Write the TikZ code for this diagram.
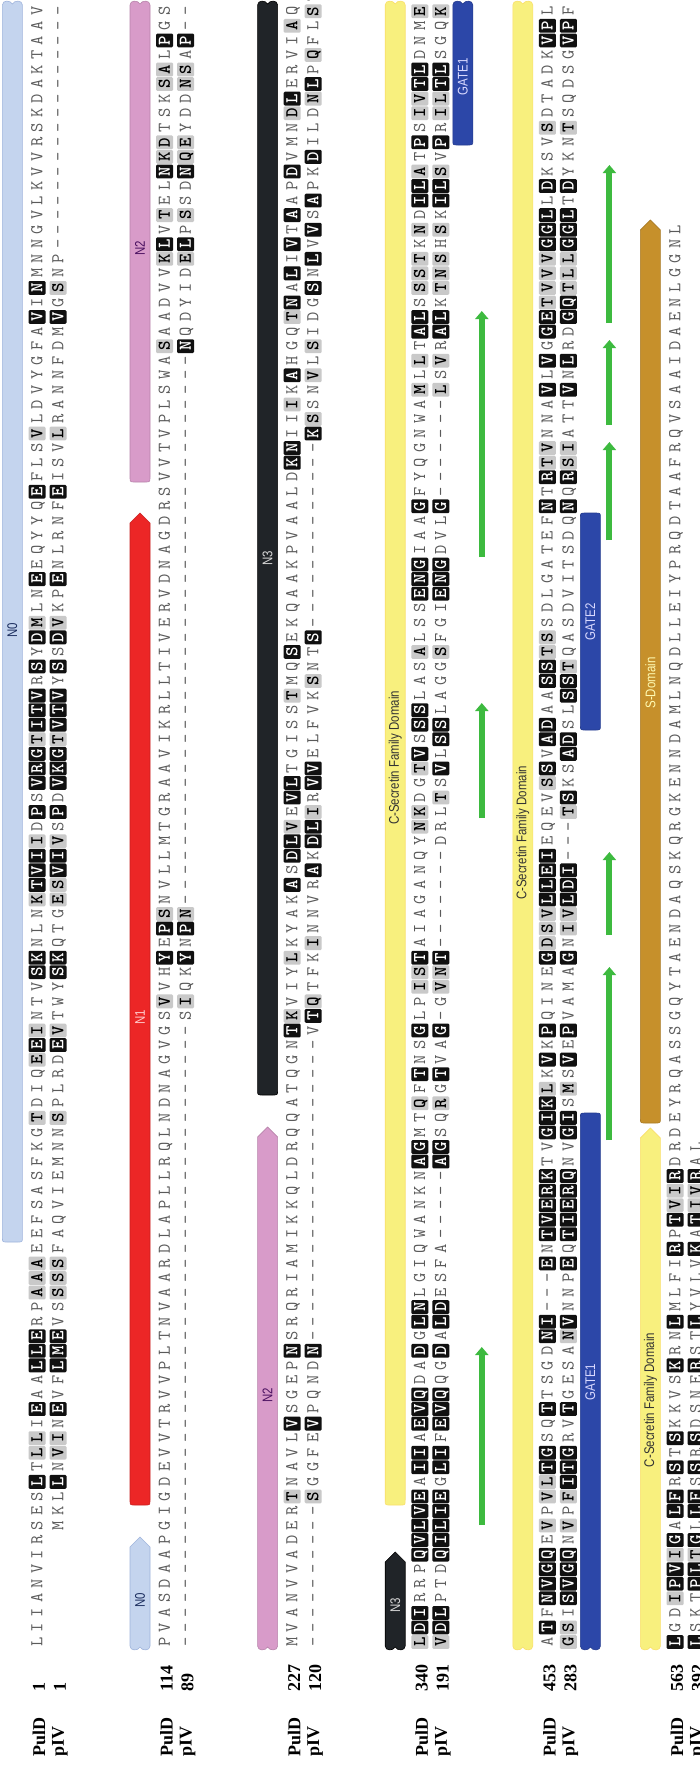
\documentclass[tikz,border=0pt]{standalone}
\usepackage{fontspec}
\setmainfont{Liberation Serif}
\newfontfamily\narrowsans[FakeStretch=0.82]{Liberation Sans}
\usetikzlibrary{arrows.meta}

\definecolor{plaingray}{HTML}{5A5A5A}
\definecolor{boxgray}{HTML}{C9C9C9}
\definecolor{boxblack}{HTML}{101010}
\definecolor{nzeroblue}{HTML}{C4D4EE}
\definecolor{nzeroline}{HTML}{9FB4DC}
\definecolor{nonered}{HTML}{EC2626}
\definecolor{ntwopink}{HTML}{D89BC9}
\definecolor{nthreeblack}{HTML}{202428}
\definecolor{secyellow}{HTML}{F8F07E}
\definecolor{gateblue}{HTML}{2C47A8}
\definecolor{sdombrown}{HTML}{C6902B}
\definecolor{strandgreen}{HTML}{3DBA3F}
\definecolor{navytext}{HTML}{1B2D5E}
\definecolor{purpletext}{HTML}{4A1060}

% ---------- sequence line machinery ----------
\newcount\sqc
\def\sqline#1#2#3{\def\sqid{#1}\def\sqx{#2}\sqc=0 \sqparse#3\relax}
\def\sqparse#1{%
 \ifx#1\relax\def\sqnext{}%
 \else\ifx#1*\def\sqnext{\sqblk}%
 \else\ifx#1+\def\sqnext{\sqgry}%
 \else\ifx#1.\def\sqnext{\advance\sqc by 1\relax\sqparse}%
 \else\def\sqnext{\sqput{seqplain}{#1}\sqparse}%
 \fi\fi\fi\fi\sqnext}
\def\sqblk#1{\sqput{seqblack}{#1}\sqparse}
\def\sqgry#1{\sqput{seqgray}{#1}\sqparse}
\def\sqput#1#2{\advance\sqc by 1\relax
 \pgfmathsetmacro\sqy{1656.56-14.56*\the\sqc}%
 \node[#1] (\sqid-\the\sqc) at (\sqx,\sqy) {#2};}

% ---------- bar end pieces ----------
\newcommand\topN[2]{(#1-10,#2+5) .. controls (#1-10,#2) and (#1-2,#2) .. (#1,#2+4) .. controls (#1+2,#2) and (#1+10,#2) .. (#1+10,#2+5)}
\newcommand\topR[2]{(#1-10,#2+5) .. controls (#1-10,#2) .. (#1-5,#2) -- (#1+5,#2) .. controls (#1+10,#2) .. (#1+10,#2+5)}
\newcommand\topA[2]{(#1-10,#2+10) -- (#1,#2) -- (#1+10,#2+10)}
\newcommand\botR[2]{-- (#1+10,#2-5) .. controls (#1+10,#2) .. (#1+5,#2) -- (#1-5,#2) .. controls (#1-10,#2) .. (#1-10,#2-5)}
\newcommand\botW[2]{-- (#1+10,#2-5) .. controls (#1+10,#2) and (#1+2,#2) .. (#1,#2-4) .. controls (#1-2,#2) and (#1-10,#2) .. (#1-10,#2-5)}

\tikzset{
 seqbase/.style={rotate=90, inner sep=0pt, minimum width=13.8pt, minimum height=17pt,
   text height=10.5pt, text depth=0pt, rounded corners=1.2pt,
   font=\fontsize{18}{18}\selectfont\ttfamily},
 seqplain/.style={seqbase, text=plaingray},
 seqblack/.style={seqbase, fill=boxblack, text=white, font=\fontsize{18}{18}\selectfont\ttfamily\bfseries},
 seqgray/.style={seqbase, fill=boxgray, text=black, font=\fontsize{18}{18}\selectfont\ttfamily\bfseries},
 lab/.style={rotate=90, anchor=west, inner sep=0pt, font=\fontsize{18}{18}\selectfont\bfseries},
 barlab/.style={rotate=90, inner sep=0pt, font=\fontsize{14}{14}\selectfont\narrowsans},
 nzerobar/.style={fill=nzeroblue, draw=nzeroline, line width=0.6pt},
 nonebar/.style={fill=nonered, draw=nonered!85!black, line width=0.6pt},
 ntwobar/.style={fill=ntwopink, draw=ntwopink!85!black, line width=0.6pt},
 nthreebar/.style={fill=nthreeblack, draw=black, line width=0.6pt},
 secbar/.style={fill=secyellow, draw=secyellow!85!orange, line width=0.6pt},
 gatebar/.style={fill=gateblue, draw=gateblue!85!black, line width=0.6pt},
 sdombar/.style={fill=sdombrown, draw=sdombrown!85!black, line width=0.6pt},
 strand/.style={draw=strandgreen, line width=6pt, -{Triangle[width=13pt,length=8pt]}},
}

\begin{document}
\begin{tikzpicture}[x=1pt,y=-1pt]
\useasboundingbox (0,0) rectangle (699,1775);
\fill[white] (0,0) rectangle (699,1775);

% ================= feature bars =================
% block 1
\path[nzerobar] \topN{12.4}{0} \botR{12.4}{1242} -- cycle;
\node[barlab,text=navytext] (fN0a) at (12.4,630) {N0};
% block 2
\path[ntwobar] \topN{140}{0} \botR{140}{482} -- cycle;
\node[barlab,text=purpletext] (fN2a) at (140,248) {N2};
\path[nonebar] \topA{140}{513} \botR{140}{1505} -- cycle;
\node[barlab,text=red!20!white] (fN1) at (140,1017) {N1};
\path[nzerobar] \topA{140}{1537} \botW{140}{1651} -- cycle;
\node[barlab,text=navytext] (fN0b) at (140,1600) {N0};
% block 3
\path[nthreebar] \topN{267.6}{0} \botR{267.6}{1095} -- cycle;
\node[barlab,text=black!15] (fN3a) at (267.6,558) {N3};
\path[ntwobar] \topA{267.6}{1127} \botW{267.6}{1651} -- cycle;
\node[barlab,text=purpletext] (fN2b) at (267.6,1395) {N2};
% block 4
\path[secbar] \topN{395.2}{0} \botR{395.2}{1505} -- cycle;
\node[barlab,text=black!80] (fCS1) at (395.2,758) {C-Secretin Family Domain};
\path[nthreebar] \topA{395.2}{1552} \botW{395.2}{1651} -- cycle;
\node[barlab,text=black!15] (fN3b) at (395.2,1605) {N3};
\path[gatebar] \topN{462.8}{0} \botR{462.8}{145} -- cycle;
\node[barlab,text=blue!15!white] (fG1a) at (462.8,77) {GATE1};
\draw[strand] (481.8,557) -- (481.8,311);
\draw[strand] (481.8,818) -- (481.8,703);
\draw[strand] (481.8,1525) -- (481.8,1347);
% block 5
\path[secbar] \topN{522.8}{0} \botW{522.8}{1651} -- cycle;
\node[barlab,text=black!80] (fCS2) at (522.8,833) {C-Secretin Family Domain};
\path[gatebar] \topR{590.4}{513} \botR{590.4}{730} -- cycle;
\node[barlab,text=blue!15!white] (fG2) at (590.4,622) {GATE2};
\path[gatebar] \topR{590.4}{1113} \botW{590.4}{1651} -- cycle;
\node[barlab,text=blue!15!white] (fG1b) at (590.4,1382) {GATE1};
\draw[strand] (609.4,323) -- (609.4,165);
\draw[strand] (609.4,425) -- (609.4,340);
\draw[strand] (609.4,540) -- (609.4,442);
\draw[strand] (609.4,935) -- (609.4,852);
\draw[strand] (609.4,1140) -- (609.4,967);
% block 6
\path[sdombar] \topA{650.4}{220} \botR{650.4}{1123} -- cycle;
\node[barlab,text=yellow!30!white] (fSD) at (650.4,683) {S-Domain};
\path[secbar] \topA{650.4}{1128} \botW{650.4}{1651} -- cycle;
\node[barlab,text=black!80] (fCS3) at (650.4,1400) {C-Secretin Family Domain};

% ================= sequences =================
% block 1
\sqline{aP}{37}{LIIANVIRSES*LT+L+LI*EAA*L*L*ERP+A+A+AEEFSASFKG+TDIQ+E*E+INTV*S*KNLN+K*T*V*I+ID*PS*V*R*G+T*I*T*VR*SY*D+MLN*EEQYYQ*EFLS+VLDVYGFA*VI*NMNNGVLKVVRSKDAKTAAV}
\sqline{aI}{58}{........MKL*LN+V+IN*EVF*L*M*EVS+S+S+SFAQVIEMNN+SPLRD*E+VTWY*S*KQTG+E+S*V*I+VS*PD*V*K*G+T*V*T*VY*SS*D+VKP*ENLRNF*EISV+LRANNFDM*VG+SNP-----------------}
% block 2
\sqline{bP}{164.6}{PVASDAAPGIGDEVVTRVVPLTNVAARDLAPLLRQLNDNAGVGS+VVH*YE*P+SNVLLMTGRAAVIKRLLTIVERVDNAGDRSVVTVPLSWA+SAADVV+K*LV+TEL*N+K+DTSK+S+AL*PGS}
\sqline{bI}{185.6}{-------------------------------------------S+IQK*YN*P+N--------------------------------------*NQDYID+E*LP+SSD*N+Q+EYDD+N+SA*P--}
% block 3
\sqline{cP}{292.2}{MVANVVADER+TNAVL*VSGEP*NSRQRIAMIKKQLDRQQATQGN*T+KVIY+LKYAK*AS*D*L+VE*V*LTGISS+TMQ*SEKQAAKPVAALD*K*NII+IK*AHGQ+T*NA*LI*VT*AAP*DVMN+D*LERVI+AQ}
\sqline{cI}{313.2}{----------+SGGFE*VPQND*N---------------------V*T+QTFK+INNVR*AK*D*L+IR*V*VELFVK+SNT*S-------------*K+SSN+VL+SIDG*SN*LV*VS*APK*DILD+N*LP+QFL+ST}
% block 4
\sqline{dP}{419.8}{+L*D*IRRP*Q*V*L*V*EA*I*IA*E*V*QDA*DG*L*NLGIQWANKN*A*GMT+QF*TNS*GLP+I+S*TAIAGANQY+N+KDG+T*VS*S*SLAS+ALSS*E*N*GIAA*GFYQGNWA+ML+LT*A*LS+S+S+TK+ND*I*L+AT*PS+I+V*T*LDNM+E}
\sqline{dI}{440.8}{+V*D*LPTD*Q*I*L*I*EG*L*IF*E*V*QQG*DA*L*DESFA-----*A*GSQ+RG*TVA*G-G+V+N*T-------DRL+TS*VL*S*SLAGG+SFGI*E*N*GDVL*G-------+LS+VR*A*LK+T+N+SH+SK*I*L+SV*PR+I+L*T*LSGQ+K}
% block 5
\sqline{eP}{547.4}{A*TF*N*V*G*QE+VP+V+L*T*GSQ*TTSGD*N*I---*EN*T*V*E*R*KTV*G*I*K+LK*VK*PQINE*G+D+S+V*L*L*E*IEQEV+S*SV*A*DAA*S*S+T+SSDLGATEF*NT*R+T+VNNA*VL*VG*G*E+T+V+V+V*G*G*LL*DKSV+SDTADK*V*PL}
\sqline{eI}{568.4}{+G+SI*S*V*G*QN+VP+F*I*T*GRV*TGESA+N*VNNP*EQ*T*I*E*R*QNV*G*IS+MS*VE*PVAMA*GN+I+V*L*D*I---+T*SKS*A*DSL*S*S+TQASDVITSDQ*NQ*R+S+IATT*VN*LRD*G*Q+T+L+L*G*G*LT*DYKN+TSQDSG*V*PF}
% block 6
\sqline{fP}{675}{*LGD+I*P*V+I*GA*L*FR*ST*SKKVS*KRN*LMLFI*RP*T+V+I*RDRDEYRQASSGQYTAENDAQSKQRGKENNDAMLNQDLLEIYPRQDTAAFRQVSAAIDAENLGGNL}
\sqline{fI}{696}{*LSKT*P*L+T*GL*L*FS*SR*SDSNE*RST*LYVLV*KA*T+I+V*RAL}

% ================= row labels =================
\node[lab] (lPa) at (39,1757) {PulD};
\node[lab] (lIa) at (60,1757) {pIV};
\node[lab] (nPa) at (39,1692) {1};
\node[lab] (nIa) at (60,1692) {1};
\node[lab] (lPb) at (166.6,1757) {PulD};
\node[lab] (lIb) at (187.6,1757) {pIV};
\node[lab] (nPb) at (166.6,1692) {114};
\node[lab] (nIb) at (187.6,1692) {89};
\node[lab] (lPc) at (294.2,1757) {PulD};
\node[lab] (lIc) at (315.2,1757) {pIV};
\node[lab] (nPc) at (294.2,1692) {227};
\node[lab] (nIc) at (315.2,1692) {120};
\node[lab] (lPd) at (421.8,1757) {PulD};
\node[lab] (lId) at (442.8,1757) {pIV};
\node[lab] (nPd) at (421.8,1692) {340};
\node[lab] (nId) at (442.8,1692) {191};
\node[lab] (lPe) at (549.4,1757) {PulD};
\node[lab] (lIe) at (570.4,1757) {pIV};
\node[lab] (nPe) at (549.4,1692) {453};
\node[lab] (nIe) at (570.4,1692) {283};
\node[lab] (lPf) at (677,1757) {PulD};
\node[lab] (lIf) at (698,1757) {pIV};
\node[lab] (nPf) at (677,1692) {563};
\node[lab] (nIf) at (698,1692) {392};
\end{tikzpicture}
\end{document}
